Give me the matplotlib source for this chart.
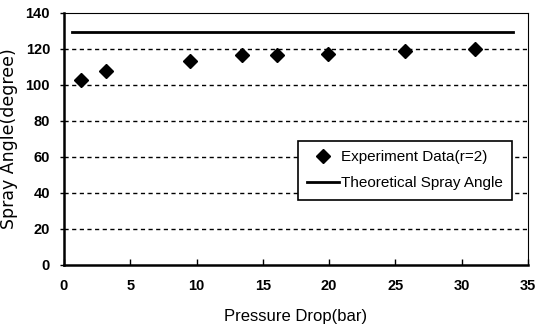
import matplotlib
matplotlib.use("Agg")
import matplotlib.pyplot as plt

pressure = [1.3, 3.2, 9.5, 13.4, 16.1, 19.9, 25.7, 31.0]
angle = [102.5, 107.7, 113.3, 116.3, 116.3, 117.0, 118.8, 119.5]

# theoretical spray angle line
theory_x = [0.6, 33.9]
theory_y = [129.0, 129.0]

xticks = [0, 5, 10, 15, 20, 25, 30, 35]
yticks = [0, 20, 40, 60, 80, 100, 120, 140]

fig = plt.figure(figsize=(5.38, 3.35), dpi=100)
ax = fig.add_axes([64 / 538, 1 - 265 / 335, 464 / 538, 252.5 / 335])

for y in yticks[1:-1]:
    ax.axhline(y, color="black", lw=1.0, ls=(0, (3, 2.5)), zorder=1)

ax.plot(theory_x, theory_y, color="black", lw=2.0, label="Theoretical Spray Angle", zorder=2)
ax.plot(pressure, angle, ls="none", marker="D", ms=7.5, color="black",
        label="Experiment Data(r=2)", zorder=3)

ax.set_xlim(0, 35)
ax.set_ylim(0, 140)
ax.set_xticks(xticks)
ax.set_yticks(yticks)

tick_font = {"family": "Liberation Sans", "size": 10.5, "weight": "bold"}
ax.set_xticklabels([str(t) for t in xticks], fontdict=tick_font)
ax.set_yticklabels([str(t) for t in yticks], fontdict=tick_font)
ax.tick_params(axis="x", direction="in", length=4, width=1, pad=10)
ax.tick_params(axis="y", direction="out", length=3, width=1, pad=7)

ax.spines["left"].set_linewidth(1.8)
ax.spines["bottom"].set_linewidth(1.8)
ax.spines["top"].set_linewidth(0.8)
ax.spines["right"].set_linewidth(0.8)

ax.set_xlabel("Pressure Drop(bar)", family="Liberation Sans", size=12)
ax.xaxis.set_label_coords(0.5, -44 / 252.5)
ax.set_ylabel("Spray Angle(degree)", family="DejaVu Sans", size=12.5)
ax.yaxis.set_label_coords(-46 / 464, 0.5)

handles, labels = ax.get_legend_handles_labels()
leg = ax.legend(handles[::-1], labels[::-1], loc="upper right",
                bbox_to_anchor=(448 / 464, 124 / 252.5), frameon=True, fancybox=False,
                edgecolor="black", framealpha=1,
                prop={"family": "Liberation Sans", "size": 11},
                handlelength=2.1, handletextpad=0.1, borderpad=0.6,
                labelspacing=0.8, borderaxespad=0)
leg.get_frame().set_linewidth(1.2)

fig.savefig("out.png", dpi=100)
